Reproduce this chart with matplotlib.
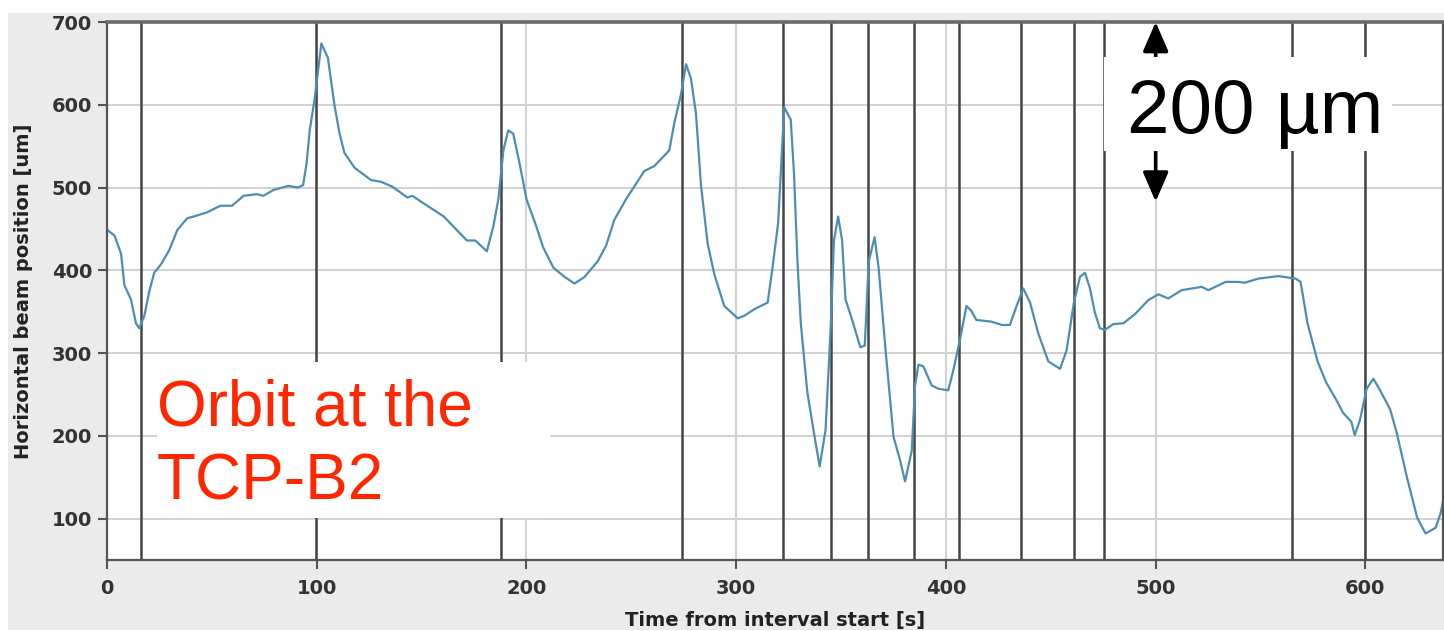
import matplotlib
matplotlib.use("Agg")
import matplotlib.pyplot as plt
from matplotlib.patches import Rectangle

# Horizontal beam position over the interval
time_s = [0.0, 3.6, 6.7, 8.3, 11.4, 13.8, 15.4, 17.8, 20.1, 22.5, 25.7, 29.6, 33.6, 38.3,
          41.4, 47.7, 54.1, 59.6, 65.1, 71.4, 74.6, 79.3, 86.4, 91.1, 93.5, 95.1, 96.7,
          99.0, 102.2, 105.3,
          108.5, 110.9, 113.2, 118.0, 122.7, 125.9, 130.6, 136.1, 143.2, 145.6, 152.7,
          160.6, 163.6, 171.6, 175.6, 181.1, 184.2, 186.6, 189.0, 191.3, 193.7, 196.8,
          200.0, 204.7, 207.9, 212.9,
          218.2, 222.9, 227.7, 234.0, 238.0, 241.9, 247.5, 256.2, 261.0, 268.1, 270.5,
          273.7, 276.1, 278.4, 280.8, 283.2, 286.4, 289.6, 294.3, 300.7, 303.8, 308.6,
          315.0, 317.3, 320.0,
          322.9, 326.0, 327.6, 329.2, 330.8, 333.9, 337.1, 339.8, 342.6, 345.0, 346.6,
          348.6, 350.5, 352.1, 355.3, 359.2, 361.3, 363.2, 366.0, 367.9, 371.1, 375.0,
          378.2, 380.5, 383.7, 385.3, 386.9, 389.2, 393.2, 396.3, 401.1, 403.4, 406.6,
          409.8, 412.1, 414.5, 421.6, 426.7,
          430.5, 433.7, 436.9, 440.1, 444.0, 448.8, 454.4, 457.5, 461.0, 463.9, 466.3,
          468.7, 471.0, 473.4, 475.8, 479.8, 484.6, 490.1, 496.5, 501.3, 506.0, 512.4,
          522.0, 525.1, 533.4,
          539.3, 542.5, 549.0, 558.6, 566.7, 569.1, 572.4, 577.2, 581.2, 586.0, 589.3,
          593.3, 594.9, 597.4, 600.6, 603.8, 607.0, 611.8, 615.0, 619.9, 624.7, 628.7,
          633.5, 635.9, 638.2]

position_um = [449, 442, 420, 382, 365, 336, 330, 345, 374, 397, 407, 424, 449, 463,
               465, 470, 478, 478, 490, 492, 490, 497, 502, 500, 503, 528, 570,
               607, 674, 657,
               599, 565, 542, 524, 515, 509, 507, 501, 488, 490, 478,
               465, 457, 436, 436, 423, 453, 486, 545, 569, 565, 528,
               486, 453, 428, 403,
               392, 384, 392, 411, 430, 461, 486, 520, 526, 545, 578,
               613, 649, 632, 590, 503, 432, 395, 357, 342, 345, 353,
               361, 403, 457,
               597, 582, 515, 411, 336, 253, 203, 163, 207, 328, 436,
               465, 436, 365, 340, 307, 309, 411, 440, 403, 307, 199,
               170, 145, 182, 261, 286, 284, 261, 257, 255, 278, 315,
               357, 351, 340, 338, 334,
               334, 357, 378, 361, 324, 290, 281, 303, 361, 392, 397,
               378, 349, 330, 328, 335, 336, 347, 364, 371, 366, 376,
               380, 376, 386,
               386, 385, 390, 393, 390, 386, 336, 290, 265, 244, 228,
               217, 201, 219, 257, 269, 255, 232, 203, 149, 101, 82,
               89, 107, 136]

# Event markers
event_times = [16.2, 99.5, 187.7, 274.0, 322.4, 345.0, 362.9, 384.7, 406.3,
               435.6, 461.0, 475.3, 565.1, 600.0]

x_ticks = [0, 100, 200, 300, 400, 500, 600]
y_ticks = [100, 200, 300, 400, 500, 600, 700]

W, H = 1444, 631
fig = plt.figure(figsize=(W / 100, H / 100), dpi=100, facecolor="white")


def fx(px):
    return px / W


def fy(py):
    return 1 - py / H


# grey panel behind the plot
fig.add_artist(Rectangle((fx(8), fy(630)), fx(1444) - fx(8), fy(13) - fy(630),
                         transform=fig.transFigure, facecolor="#ebebeb",
                         edgecolor="none", zorder=-1))

ax = fig.add_axes([fx(107), fy(560), fx(1443) - fx(107), fy(22) - fy(560)])
ax.set_facecolor("white")
ax.set_xlim(0, 637)
ax.set_ylim(50, 700)
ax.set_xticks(x_ticks)
ax.set_yticks(y_ticks)

ax.set_axisbelow(True)
ax.grid(True, color="#d2d2d2", linewidth=1.5)

for t in event_times:
    ax.axvline(t, color="#444444", linewidth=1.8, zorder=1.5)

ax.plot(time_s, position_um, color="#4e8db2", linewidth=1.6, zorder=2)

for side in ["left", "bottom", "right"]:
    ax.spines[side].set_color("#555555")
    ax.spines[side].set_linewidth(1.6)
ax.spines["top"].set_color("#6a6a6a")
ax.spines["top"].set_linewidth(2.6)

ax.tick_params(direction="out", length=6.5, width=1.5, color="#555555",
               labelsize=14, labelcolor="#333333")
ax.tick_params(axis="y", pad=4.3)
ax.tick_params(axis="x", pad=7)
for lab in ax.get_xticklabels() + ax.get_yticklabels():
    lab.set_fontweight("bold")

ax.set_xlabel("Time from interval start [s]", fontsize=14, fontweight="bold",
              color="#222222")
ax.set_ylabel("Horizontal beam position [um]", fontsize=14, fontweight="bold",
              color="#222222")
ax.xaxis.set_label_coords(0.5, -0.095)
ax.yaxis.set_label_coords(-0.0554, 0.5)

# White boxes holding the annotations
fig.add_artist(Rectangle((fx(157), fy(518)), fx(550) - fx(157), fy(362) - fy(518),
                         transform=fig.transFigure, facecolor="white",
                         edgecolor="none", zorder=5))
fig.add_artist(Rectangle((fx(1104), fy(151)), fx(1392) - fx(1104), fy(57) - fy(151),
                         transform=fig.transFigure, facecolor="white",
                         edgecolor="none", zorder=5))

fig.text(fx(157), fy(426), "Orbit at the", fontsize=46, color="#ff2600",
         family="Liberation Sans", ha="left", va="baseline", zorder=6)
fig.text(fx(157), fy(500), "TCP-B2", fontsize=46, color="#ff2600",
         family="Liberation Sans", ha="left", va="baseline", zorder=6)
fig.text(fx(1127), fy(133), "200 µm", fontsize=55, color="black",
         family="Liberation Sans", ha="left", va="baseline", zorder=6)

# 200 µm scale arrows
arrow_kw = dict(arrowstyle="-|>,head_length=1.5,head_width=0.65", color="black",
                lw=2.6, mutation_scale=12, shrinkA=0, shrinkB=0)
ax.annotate("", xy=(500, 700), xytext=(500, 657.5), arrowprops=arrow_kw,
            annotation_clip=False, zorder=7)
ax.annotate("", xy=(500, 483), xytext=(500, 544), arrowprops=arrow_kw,
            annotation_clip=False, zorder=7)

fig.savefig("out.png", dpi=100, facecolor="white")
